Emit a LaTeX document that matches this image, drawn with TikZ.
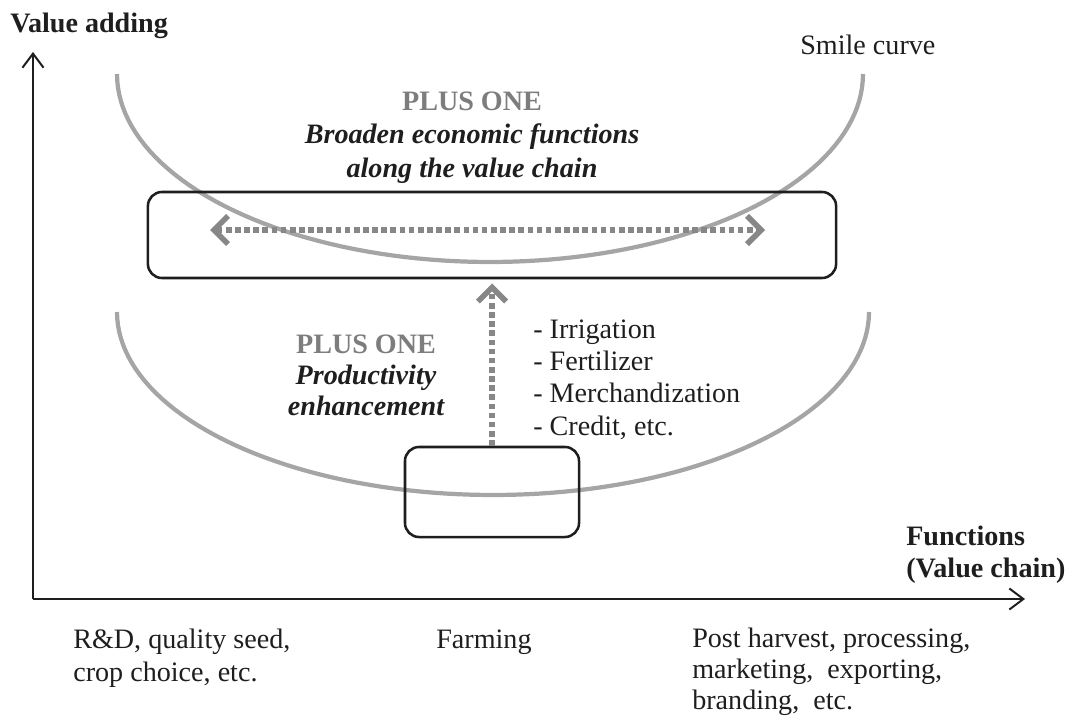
\documentclass[tikz,border=0pt]{standalone}
\usepackage{fontspec}
\setmainfont{Liberation Serif}
\usetikzlibrary{arrows.meta}
\definecolor{curvegray}{RGB}{165,165,165}
\definecolor{arrowgray}{RGB}{135,135,135}
\definecolor{plusgray}{RGB}{125,125,125}
\definecolor{ink}{RGB}{30,30,30}
\tikzset{
	lbl/.style={text=ink, inner sep=0pt, font=\fontsize{20}{24}\selectfont},
	head/.style={text=ink, inner sep=0pt, font=\bfseries\fontsize{20}{22.7}\selectfont},
	smile/.style={curvegray, line width=3pt},
	framebox/.style={draw=ink, line width=1.8pt, rounded corners=10pt},
	growth/.style={arrowgray, line width=4pt, dash pattern=on 4pt off 2.5pt},
	barb/.tip={Straight Barb[length=10pt, width=20pt]},
	axis/.style={ink, line width=1.4pt, -{Straight Barb[length=10pt, width=15pt]}},
}
\begin{document}
\begin{tikzpicture}[x=0.025cm, y=-0.025cm]
	\useasboundingbox (0,0) rectangle (1075,722);
%axes
	\coordinate (origin) at (33,599);
	\coordinate (ytop) at (33,52);
	\coordinate (xend) at (1025,599);
	\draw[axis] (origin) -- (ytop);
	\draw[axis] (origin) -- (xend);

	\node[head, anchor=base west] (yname) at (10,33) {Value adding};
	% multi-line nodes: anchor on the last baseline
	\node[head, align=left, anchor=base west] (xname) at (906,577) {Functions\\(Value chain)};

%smile curves
	\draw[smile] plot[domain=180:360, samples=90] ({490+373*cos(\x)}, {74-188*sin(\x)});
	\draw[smile] plot[domain=180:360, samples=90] ({493+376*cos(\x)}, {312-183*sin(\x)});
	\node[lbl, anchor=base west] (smilename) at (800,55) {Smile curve};

%boxes
	\node[framebox, minimum width=17.2cm, minimum height=2.15cm] (chain) at (492,235) {};
	\node[framebox, minimum width=4.35cm, minimum height=2.25cm] (farm) at (492,492) {};

%arrows
	\coordinate (hleft) at (210,230);
	\coordinate (hright) at (765,230);
	\draw[growth, barb-barb] (hleft) -- (hright);
	\draw[growth, -barb, shorten >=3pt] (farm.north) -- (chain.south);

%plus one
	\node[lbl, align=center, anchor=base, font=\bfseries\itshape\fontsize{20}{23.7}\selectfont] (broaden) at (472,177)
		{\textcolor{plusgray}{\upshape PLUS ONE}\\Broaden economic functions\\along the value chain};
	\node[lbl, align=center, anchor=base, font=\bfseries\itshape\fontsize{20}{22}\selectfont] (enhance) at (366,415)
		{\textcolor{plusgray}{\upshape PLUS ONE}\\Productivity\\enhancement};
	\node[lbl, align=left, anchor=base west, font=\fontsize{20}{22.9}\selectfont] (inputs) at (533,435)
		{- Irrigation\\- Fertilizer\\- Merchandization\\- Credit, etc.};

%functions along the chain
	\node[lbl, align=left, anchor=base west, font=\fontsize{20}{23.4}\selectfont] (upstream) at (73,681) {R\&D, quality seed,\\crop choice, etc.};
	\node[lbl, anchor=base west] (farming) at (436,648) {Farming};
	\node[lbl, align=left, anchor=base west, font=\fontsize{20}{22}\selectfont] (downstream) at (692,709)
		{Post harvest, processing,\\marketing,\ \ exporting,\\branding,\ \ etc.};
\end{tikzpicture}
\end{document}
